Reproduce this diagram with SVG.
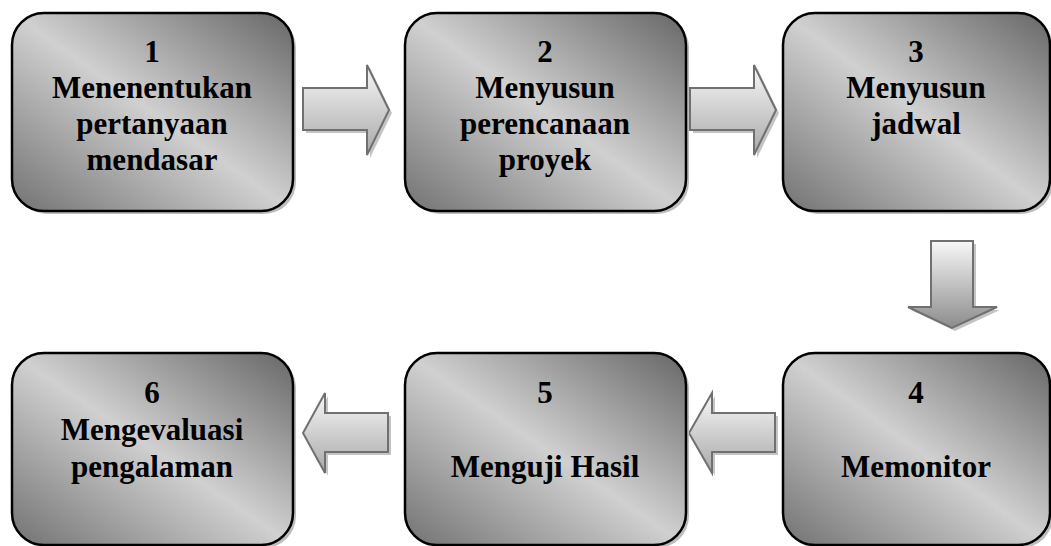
<svg xmlns="http://www.w3.org/2000/svg" width="1051" height="546" viewBox="0 0 1051 546">
<defs>
<linearGradient id="boxg" x1="1" y1="0" x2="0" y2="1">
<stop offset="0" stop-color="#666"/>
<stop offset="0.5" stop-color="#d0d0d0"/>
<stop offset="1" stop-color="#727272"/>
</linearGradient>
<linearGradient id="arrh" x1="0" y1="0" x2="0" y2="1">
<stop offset="0" stop-color="#f7f7f7"/>
<stop offset="1" stop-color="#a8a8a8"/>
</linearGradient>
<linearGradient id="arrv" x1="0" y1="0" x2="0" y2="1">
<stop offset="0" stop-color="#f7f7f7"/>
<stop offset="1" stop-color="#8c8c8c"/>
</linearGradient>
</defs>
<style>
.box{fill:url(#boxg);stroke:#000;stroke-width:2.5}
.sh{fill:#bdbdbd}
.ash{fill:#c4c4c4}
.arr{fill:url(#arrh);stroke:#707070;stroke-width:2}
.arrd{fill:url(#arrv);stroke:#707070;stroke-width:2}
.t{font-weight:bold;font-size:31px;fill:#000;text-anchor:middle}
</style>
<rect width="1051" height="546" fill="#fff"/>
<g id="connectors">
<path class="ash" d="M306,91 H370 V68 L392,113 L370,158 V133 H306 Z"/>
<path class="arr" d="M303,88 H367 V65 L389,110 L367,155 V130 H303 Z"/>
<path class="ash" d="M693,91 H757 V68 L779,113 L757,158 V133 H693 Z"/>
<path class="arr" d="M690,88 H754 V65 L776,110 L754,155 V130 H690 Z"/>
<path class="ash" d="M934,244 H976 V310 H1000 L955,331 L911,310 H934 Z"/>
<path class="arrd" d="M931,241 H973 V307 H997 L952,328 L908,307 H931 Z"/>
<path class="ash" d="M778,416 V455 H715 V476 L692,436 L715,396 V416 Z"/>
<path class="arr" d="M775,413 V452 H712 V473 L689,433 L712,393 V413 Z"/>
<path class="ash" d="M391,416 V455 H328 V476 L306,436 L328,396 V416 Z"/>
<path class="arr" d="M388,413 V452 H325 V473 L303,433 L325,393 V413 Z"/>
</g>
<g font-family="Liberation Serif, DejaVu Serif, serif">
<g id="node1">
<rect class="sh" x="15" y="16" width="281" height="198" rx="32"/>
<rect class="box" x="12" y="13" width="281" height="198" rx="32"/>
<text class="t" x="152" y="62">1</text>
<text class="t" x="152" y="98">Menenentukan</text>
<text class="t" x="152" y="134">pertanyaan</text>
<text class="t" x="152" y="170">mendasar</text>
</g>
<g id="node2">
<rect class="sh" x="408" y="16" width="281" height="198" rx="32"/>
<rect class="box" x="405" y="13" width="281" height="198" rx="32"/>
<text class="t" x="545" y="62">2</text>
<text class="t" x="545" y="98">Menyusun</text>
<text class="t" x="545" y="134">perencanaan</text>
<text class="t" x="545" y="170">proyek</text>
</g>
<g id="node3">
<rect class="sh" x="786" y="16" width="267" height="198" rx="32"/>
<rect class="box" x="783" y="13" width="267" height="198" rx="32"/>
<text class="t" x="916" y="62">3</text>
<text class="t" x="916" y="98">Menyusun</text>
<text class="t" x="916" y="134">jadwal</text>
</g>
<g id="node4">
<rect class="sh" x="786" y="356" width="267" height="192" rx="32"/>
<rect class="box" x="783" y="353" width="267" height="192" rx="32"/>
<text class="t" x="916" y="403">4</text>
<text class="t" x="916" y="477">Memonitor</text>
</g>
<g id="node5">
<rect class="sh" x="408" y="356" width="281" height="192" rx="32"/>
<rect class="box" x="405" y="353" width="281" height="192" rx="32"/>
<text class="t" x="545" y="403">5</text>
<text class="t" x="545" y="477">Menguji Hasil</text>
</g>
<g id="node6">
<rect class="sh" x="15" y="356" width="281" height="192" rx="32"/>
<rect class="box" x="12" y="353" width="281" height="192" rx="32"/>
<text class="t" x="152" y="403">6</text>
<text class="t" x="152" y="440">Mengevaluasi</text>
<text class="t" x="152" y="477">pengalaman</text>
</g>
</g>
</svg>
